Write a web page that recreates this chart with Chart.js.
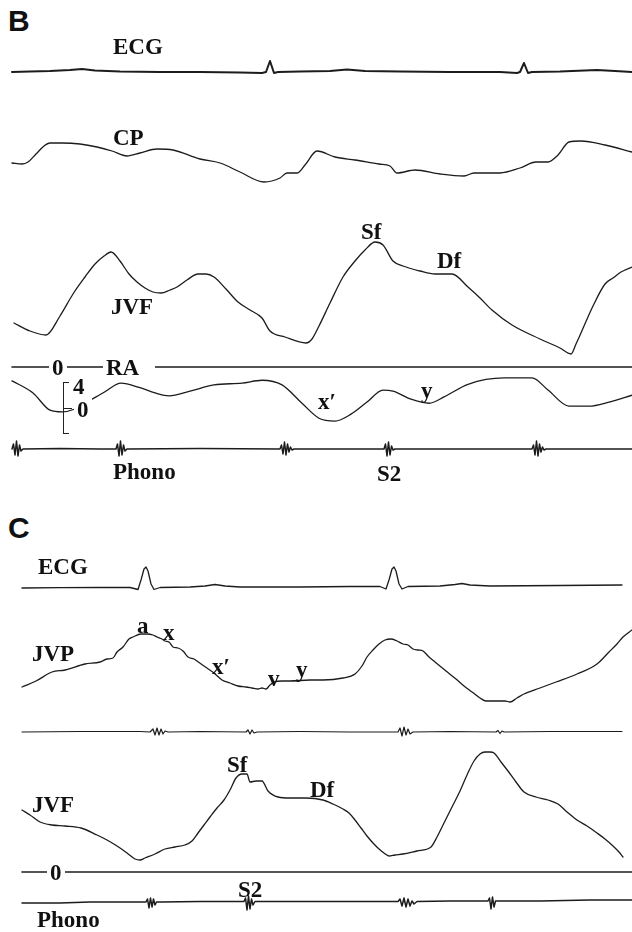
<!DOCTYPE html>
<html>
<head>
<meta charset="utf-8">
<script src="https://cdn.jsdelivr.net/npm/chart.js@4.4.1/dist/chart.umd.min.js"></script>
<style>
  html, body { margin: 0; padding: 0; background: #fff; }
  #page { position: relative; width: 632px; height: 932px; overflow: hidden; background: #fff; }
  canvas { position: absolute; left: 0; }
  .lbl { position: absolute; font: bold 23px "Liberation Serif", "Times New Roman", serif; color: #111;
         line-height: 1; transform: translateY(-50%); white-space: nowrap; }
  .panel { font: bold 30px "Liberation Sans", Arial, sans-serif; }
  .bg { background: #fff; padding: 0 3px; }
  .bracket { position: absolute; border: 1.5px solid #222; border-right: none; }
  .tick { position: absolute; height: 0; border-top: 1.5px solid #222; }
</style>
</head>
<body>
<div id="page"></div>
<script>
/* Jugular venous / RA pressure tracings.
   t = time (same sweep units for every trace), values = deflection above zero. */

/* ── Panel B ────────────────────────────────────────────────────────── */
const ecgB_t = [12, 30, 50, 70, 82, 95, 120, 160, 200, 240, 262, 266, 270, 274, 278, 300, 330, 347, 365, 400, 450, 500, 517, 520, 524, 528, 532, 560, 597, 615, 632];
const ecgB_v = [0, 0.5, 1, 2, 3, 1.5, 0.5, 0, 0, -0.5, -1, 0, 11, -1, 0, 0.5, 1, 2.5, 1, 0.5, 0, 0, -1, 0, 9, -1, 0, 0.5, 2, 1, 0];

const cpB_t = [12, 22, 28, 36, 44, 50, 62, 80, 97, 112, 127, 140, 157, 173, 200, 220, 240, 264, 280, 287, 297, 305, 317, 335, 355, 379, 390, 397, 415, 440, 464, 474, 500, 520, 536, 548, 558, 569, 581, 605, 632];
const cpB_v = [-3, -4, -2, 6, 14, 17, 17, 16, 13, 9, 4, 7, 11, 10, 1, -3, -12, -22, -18, -13, -13, -5, 9, 3, 0, -4, -6, -13, -10, -14, -16, -13, -13, -8, -2, -2, 5, 18, 19, 15, 8];

const jvfB_t = [14, 30, 46, 60, 73, 85, 95, 104, 111, 120, 129, 137, 145, 153, 161, 170, 177, 187, 198, 206, 214, 226, 238, 250, 262, 270, 285, 306, 312, 319, 330, 343, 355, 365, 375, 383, 393, 403, 420, 435, 452, 468, 480, 492, 512, 540, 560, 571, 576, 581, 593, 605, 613, 621, 632];
const jvfB_v = [44, 36, 32, 51, 73, 90, 103, 111, 115, 106, 93, 85, 79, 75, 74, 77, 80, 87, 93, 93, 90, 78, 65, 57, 49, 36, 30, 24, 28, 41, 64, 90, 106, 117, 125, 122, 106, 101, 96, 93, 93, 80, 69, 57, 42, 28, 19, 13, 23, 34, 61, 83, 89, 95, 100];
const zeroB_t = [12, 632];
const zeroB_v = [0, 0];

// RA pressure, mmHg
const raB_t = [12, 33, 50, 62, 75, 91, 105, 121, 140, 155, 169, 190, 214, 242, 262, 282, 302, 319, 335, 351, 367, 383, 393, 411, 429, 444, 468, 504, 532, 548, 569, 589, 609, 632];
const raB_v = [4.9, 2.8, -0.2, -0.5, 0, 1.6, 3.0, 4.5, 3.7, 2.8, 2.3, 3.1, 4.2, 4.5, 5.0, 4.2, 1.0, -1.6, -2.1, -0.9, 1.2, 3.3, 3.1, 1.7, 1.0, 2.1, 4.3, 5.4, 5.4, 3.3, 0.5, 0.5, 1.2, 2.4];

const phonoB_t = [12, 13.5, 15, 16.5, 18, 19.5, 21, 23, 60, 100, 116, 117.5, 119, 120.5, 122, 123.5, 125, 127, 200, 280, 281.5, 283, 284.5, 286, 287.5, 289, 290.5, 292, 294, 340, 384, 385.5, 387, 388.5, 390, 391.5, 393, 395, 470, 532, 533.5, 535, 536.5, 538, 539.5, 541, 542.5, 544, 546, 600, 632];
const phonoB_v = [0, 5, -6, 8, -7, 4, -2, 0, 0.5, 0, 0, 5, -7, 8, -6, 4, -2, 0, 0.5, 0, 4, -5, 7, -6, 5, -3, 2, -1, 0, 0, 0, 5, -7, 7, -6, 3, -1, 0, 0, 0, 4, -6, 8, -7, 5, -3, 2, -1, 0, 0, 0];

/* ── Panel C ────────────────────────────────────────────────────────── */
const ecgC_t = [22, 60, 100, 130, 138, 141, 144, 146, 148, 151, 154, 160, 190, 205, 215, 225, 240, 300, 350, 380, 386, 389, 392, 394, 396, 399, 402, 408, 440, 455, 462, 470, 490, 560, 622];
const ecgC_v = [0, 0.3, 0.5, 0.5, -1.5, 8, 19, 21, 17, 4, -1.5, 0.5, 1, 2, 3.5, 2, 1, 1, 1.5, 1.5, -1, 8, 19, 21, 17, 4, -1, 1.5, 2, 3.5, 4.5, 3, 2, 2.5, 3];

const jvpC_t = [22, 36, 52, 65, 85, 100, 107, 113, 117, 123, 129, 133, 141, 147, 153, 157, 162, 165, 169, 173, 178, 183, 188, 194, 197, 204, 214, 222, 230, 238, 246, 252, 258, 262, 266, 270, 274, 282, 290, 310, 323, 343, 355, 362, 367, 373, 379, 385, 391, 397, 403, 408, 413, 418, 423, 429, 435, 446, 456, 464, 472, 480, 486, 493, 500, 505, 510, 517, 524, 540, 556, 577, 597, 609, 617, 623, 632];
const jvpC_v = [13, 19, 28, 30, 36, 38, 41, 42, 48, 53, 61, 63, 66, 66, 65, 63, 61, 59, 58, 53, 52, 49, 43, 41, 39, 34, 27, 20, 17, 14, 13, 12, 11, 12, 11, 15, 18, 19, 19, 20, 20, 22, 26, 34, 43, 50, 56, 60, 61, 59, 56, 55, 51, 50, 49, 43, 38, 29, 21, 14, 8, 2, -1, -1, -1, -1, -2, 2, 6, 12, 18, 26, 36, 48, 56, 63, 70];

const midC_t = [22, 80, 140, 150, 153, 155, 157, 159, 161, 163, 165, 168, 200, 246, 248, 250, 252, 254, 257, 300, 350, 398, 400, 402, 404, 406, 408, 410, 413, 450, 496, 498, 500, 502, 504, 550, 622];
const midC_v = [0, 0.5, 0.5, 0, 3, -3, 4, -3, 3, -2, 1, 0, 0.5, 0, 2, -2, 2, -1, 0, 0.5, 0, 0, 4, -4, 5, -3, 3, -2, 0, 0.5, 0, 1.5, -1.5, 1, 0, 0.5, 0.5];

const jvfC_t = [22, 30, 40, 52, 65, 81, 97, 107, 117, 127, 135, 140, 145, 155, 165, 175, 185, 192, 198, 204, 210, 217, 224, 230, 236, 242, 247, 250, 256, 262, 268, 278, 290, 306, 323, 333, 343, 349, 355, 361, 367, 373, 379, 384, 389, 395, 403, 417, 431, 437, 444, 452, 460, 467, 474, 480, 485, 490, 494, 501, 508, 516, 524, 536, 548, 558, 567, 577, 587, 597, 605, 613, 619, 623];
const jvfC_v = [62, 57, 50, 47, 46, 44, 37, 32, 26, 19, 13, 12, 14, 18, 23, 25, 27, 31, 39, 47, 55, 64, 72, 82, 94, 98, 98, 90, 91, 91, 81, 75, 74, 74, 72, 68, 63, 59, 52, 44, 36, 29, 23, 19, 16, 17, 18, 21, 25, 35, 49, 65, 81, 97, 111, 118, 120, 120, 119, 110, 101, 90, 80, 75, 72, 68, 60, 52, 46, 39, 33, 26, 20, 15];
const zeroC_t = [22, 632];
const zeroC_v = [0, 0];

const phonoC_t = [22, 60, 90, 146, 147.5, 149, 150.5, 152, 153.5, 155, 156.5, 158, 161, 200, 244, 245.5, 247, 248.5, 250, 251.5, 253, 255, 258, 300, 398, 400, 402, 404, 406, 408, 410, 412, 414, 417, 450, 488, 489.5, 491, 492.5, 494, 495.5, 497, 499, 540, 590, 632];
const phonoC_v = [0, 0, 1, 1, 4, -5, 5, -4, 4, -2, 1, 1, 1, 1.5, 1.5, 5, -7, 7, -6, 4, -2, 1.5, 1.5, 1.5, 1.5, 4, -3, 5, -4, 4, -3, 2, -1, 1.5, 2, 2, 5, -6, 6, -4, 2, 2, 2, 2, 3, 3];

/* ── Labels ─────────────────────────────────────────────────────────── */
const LABELS = [
  ['B', 8, 21, 'panel'], ['ECG', 113, 46], ['CP', 113, 137], ['Sf', 361, 231], ['Df', 437, 260],
  ['JVF', 111, 306], ['0', 49, 367, 'bg'], ['RA', 103, 367, 'bg'], ['4', 73, 386], ['0', 74, 409, 'bg'],
  ['x\u2032', 318, 401], ['y', 421, 390], ['Phono', 113, 471], ['S2', 377, 473],
  ['C', 8, 528, 'panel'], ['ECG', 38, 566], ['JVP', 32, 653], ['a', 137, 625], ['x', 163, 632],
  ['x\u2032', 212, 666], ['v', 268, 678], ['y', 296, 669], ['Sf', 227, 764], ['Df', 310, 789],
  ['JVF', 32, 804], ['0', 47, 872, 'bg'], ['S2', 238, 889], ['Phono', 37, 919]
];

const page = document.getElementById('page');

function line(t, v, opts = {}) {
  return {
    data: t.map((x, i) => ({ x, y: v[i] })),
    borderColor: '#1c1c1c',
    borderWidth: opts.w || 1.3,
    borderJoinStyle: 'round',
    borderCapStyle: 'round',
    pointRadius: 0,
    fill: false,
    tension: opts.sharp ? 0 : 0.35,
    cubicInterpolationMode: opts.sharp ? 'default' : 'monotone',
  };
}

// one canvas per trace; base = page row of zero, ppu = pixels per unit
function trace(top, height, base, datasets, ppu = 1) {
  const cv = document.createElement('canvas');
  cv.width = 632; cv.height = height;
  cv.style.top = top + 'px';
  page.appendChild(cv);
  new Chart(cv, {
    type: 'line',
    data: { datasets },
    options: {
      responsive: false,
      animation: false,
      events: [],
      layout: { padding: 0 },
      plugins: { legend: { display: false }, tooltip: { enabled: false } },
      scales: {
        x: { type: 'linear', display: false, min: 0, max: 632 },
        y: { display: false, min: (base - top - height) / ppu, max: (base - top) / ppu }
      }
    }
  });
}

trace(40, 45, 72, [line(ecgB_t, ecgB_v, { w: 2, sharp: true })]);
trace(125, 70, 160, [line(cpB_t, cpB_v)]);
trace(225, 150, 367, [line(jvfB_t, jvfB_v), line(zeroB_t, zeroB_v, { w: 1.6, sharp: true })]);
trace(370, 65, 409, [line(raB_t, raB_v)], 5.75);
trace(433, 32, 449, [line(phonoB_t, phonoB_v, { w: 1.5, sharp: true })]);

trace(560, 40, 588, [line(ecgC_t, ecgC_v, { w: 1.3, sharp: true })]);
trace(620, 90, 700, [line(jvpC_t, jvpC_v)]);
trace(720, 24, 732, [line(midC_t, midC_v, { w: 1.2, sharp: true })]);
trace(740, 140, 872, [line(jvfC_t, jvfC_v), line(zeroC_t, zeroC_v, { w: 1.6, sharp: true })]);
trace(889, 28, 903, [line(phonoC_t, phonoC_v, { w: 1.5, sharp: true })]);

// RA scale bracket
const br = document.createElement('div');
br.className = 'bracket';
Object.assign(br.style, { left: '63px', top: '382px', width: '5px', height: '50px' });
page.appendChild(br);
const tk = document.createElement('div');
tk.className = 'tick';
Object.assign(tk.style, { left: '63px', top: '408px', width: '9px' });
page.appendChild(tk);

LABELS.forEach(([txt, x, y, cls]) => {
  const d = document.createElement('div');
  d.className = 'lbl' + (cls ? ' ' + cls : '');
  d.textContent = txt;
  d.style.left = x + 'px';
  d.style.top = y + 'px';
  if (txt === 'RA') d.style.paddingRight = '16px';
  page.appendChild(d);
});
</script>
</body>
</html>
